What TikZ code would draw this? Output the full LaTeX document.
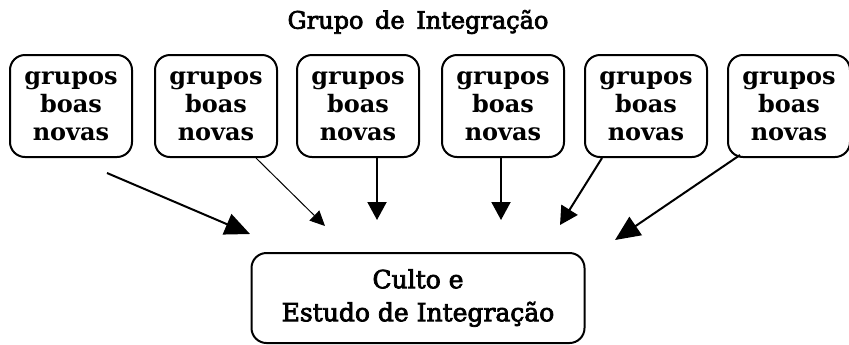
\documentclass[tikz,border=0pt]{standalone}
\usepackage{fontspec}
\setmainfont{DejaVu Serif}
\newfontfamily\grossa{DejaVu Serif}[FakeBold=3]
\usetikzlibrary{arrows.meta}

\begin{document}
\begin{tikzpicture}[x=0.5pt, y=-0.5pt,
  grupo/.style={draw, line width=1pt, rounded corners=7.5pt, minimum width=61pt, minimum height=51pt, inner sep=0pt, align=center, font=\bfseries\fontsize{12}{14}\selectfont},
  culto/.style={draw, line width=1pt, rounded corners=7.5pt, minimum width=166.5pt, minimum height=45pt, inner sep=0pt, align=center, font=\grossa\fontsize{12.5}{16.5}\selectfont},
  seta/.style={line width=1pt, -{Triangle[length=12.5pt, width=11pt]}},
  setam/.style={line width=1pt, -{Triangle[length=9pt, width=9.5pt]}},
  setaf/.style={line width=0.5pt, -{Triangle[length=7.5pt, width=7pt]}}]
\useasboundingbox (0,0) rectangle (849,344);

\node (titulo) at (418,22) {\grossa\fontsize{12}{14}\selectfont Grupo\, de\, Integração};

\node[grupo] (g1) at (71,106) {grupos\\boas\\novas};
\node[grupo] (g2) at (216,106) {grupos\\boas\\novas};
\node[grupo] (g3) at (358,106) {grupos\\boas\\novas};
\node[grupo] (g4) at (503,106) {grupos\\boas\\novas};
\node[grupo] (g5) at (646,106) {grupos\\boas\\novas};
\node[grupo] (g6) at (789,106) {grupos\\boas\\novas};

\node[culto] (culto) at (418,298) {Culto e\\Estudo de Integração};

% pontas soltas das setas
\coordinate (s1) at (107,173);
\coordinate (e1) at (250,234);
\coordinate (e2) at (325,226);
\coordinate (e3) at (377,220);
\coordinate (e4) at (501,220);
\coordinate (e5) at (560,225);
\coordinate (e6) at (615,240);

\draw [seta] (s1) -- (e1);
\draw [setaf] ([xshift=20pt]g2.south) -- (e2);
\draw [setam] ([xshift=9.5pt]g3.south) -- (e3);
\draw [setam] ([xshift=-1pt]g4.south) -- (e4);
\draw [setam] ([xshift=-22pt]g5.south) -- (e5);
\draw [seta] ([xshift=-24.5pt,yshift=1.5pt]g6.south) -- (e6);
\end{tikzpicture}
\end{document}
